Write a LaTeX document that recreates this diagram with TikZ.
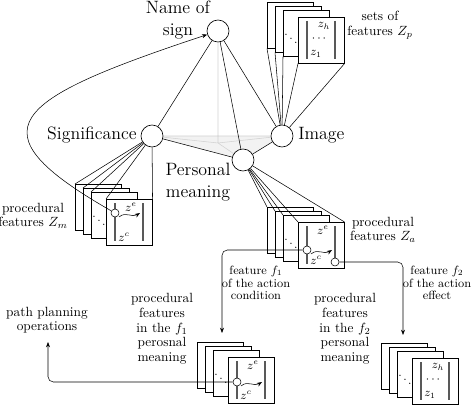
\documentclass[tikz,border=0pt]{standalone}
\usepackage{amsmath}
\usepackage{tikz}
\usetikzlibrary{arrows.meta,backgrounds}
\tikzstyle{sign}=[circle,draw,fill=white,minimum size=16.5pt,inner sep=0pt]
\tikzstyle{big}=[font=\fontsize{13.4}{16.5}\selectfont,inner sep=0pt]
\tikzstyle{note}=[font=\fontsize{10}{11}\selectfont,align=center,inner sep=0pt]
\tikzstyle{fnote}=[note,font=\fontsize{9}{9.4}\selectfont]
\tikzstyle{card}=[draw,fill=white,anchor=north west,minimum width=34.5pt,minimum height=34.5pt,inner sep=0pt]
\tikzstyle{bar}=[line width=2.1pt,black!65]
\tikzstyle{port}=[circle,draw,fill=white,minimum size=6pt,inner sep=0pt]
\tikzstyle{tag}=[font=\small,inner sep=0pt]
\tikzstyle{plane}=[black!18,line width=0.4pt]
% stack of four cards, #2 is the top left corner of the back card
\def\cardstack#1#2{%
  \coordinate (#1) at (#2);
  \foreach \dx/\dy [count=\k] in {0/0,8/4,16/8,31/15}
    \node[card] (#1-\k) at ([shift={(\dx,\dy)}]#1) {};
  \node[tag] at ([shift={(24,33)}]#1) {$\ddots$};
  \draw[bar] ([shift={(40,19)}]#1) -- ([shift={(40,57)}]#1);
  \draw[bar] ([shift={(68,19)}]#1) -- ([shift={(68,57)}]#1);
}
\def\setcard#1{%
  \node[tag] at ([shift={(57,24)}]#1) {$z_h$};
  \node[tag] at ([shift={(53,37)}]#1) {$\cdots$};
  \node[tag] at ([shift={(49,52)}]#1) {$z_1$};
}
\def\proccard#1#2{%
  \node[tag] at ([shift={(56,23)}]#1) {$z^e$};
  \node[tag] at ([shift={(49,53)}]#1) {$z^c$};
  \node[port] (#1-c) at ([shift={(40,#2)}]#1) {};
  \draw[->] ([shift={(44,#2+4)}]#1) .. controls +(7,-6) and +(-8,5) .. ([shift={(65,#2)}]#1);
}
\begin{document}
\begin{tikzpicture}[x=0.75pt,y=-0.75pt,line width=0.5pt,>={Stealth[length=4pt,width=3pt]}]
  \useasboundingbox (0,0) rectangle (474,406);
  % the sign
  \node[sign] (name) at (218,31) {};
  \node[sign] (sig) at (152,136) {};
  \node[sign] (img) at (282,136) {};
  \node[sign] (pm) at (243,160) {};
  \node[big,align=center] (namel) at (178,20) {Name of\\sign};
  \node[big,anchor=base east] (sigl) at (137,140) {Significance};
  \node[big,anchor=base west] (imgl) at (298,140) {Image};
  \node[big,align=center] (pml) at (198,182) {Personal\\meaning};
  \coordinate (foot) at (218,143);
  \begin{pgfonlayer}{background}
    \fill[black!5] (sig.center) -- (img.center) -- (pm.center) -- cycle;
    \draw[plane] (sig) -- (img) (name) -- (foot) (sig) -- (foot) (img) -- (foot) (pm) -- (foot);
  \end{pgfonlayer}
  \draw (name) -- (sig) (name) -- (img) (name) -- (pm) (sig) -- (pm) (img) -- (pm);
  % feature stacks
  \cardstack{zp}{267,2} \setcard{zp}
  \cardstack{zm}{75,184} \proccard{zm}{29}
  \cardstack{za}{267,207} \proccard{za}{43}
  \node[port] (za-c2) at ([shift={(68,55)}]za) {};
  \cardstack{fc}{197,342} \proccard{fc}{40}
  \cardstack{fe}{381,343} \setcard{fe}
  \foreach \k in {1,...,4} \draw (img) -- (zp-\k.south west);
  \draw (img) -- (zp-4.south east);
  \foreach \k in {1,...,4} \draw (sig) -- (zm-\k.north west);
  \draw (sig) -- (zm-4.north east);
  \foreach \k in {1,...,4} \draw (pm) -- (za-\k.north west);
  \draw (pm) -- (za-4.north east);
  \draw[->] (zm-c) .. controls (-30,130) and (10,100) .. (name);
  % action features
  \coordinate (fcin) at (222,333);
  \coordinate (fein) at (403,335);
  \coordinate (ppin) at (48,342);
  \draw[->,rounded corners=4pt] (za-c) -| (fcin);
  \draw[->,rounded corners=4pt] (za-c2) -| (fein);
  \draw[->,rounded corners=4pt] (fc-c) -| (ppin);
  % labels
  \node[note] (zpl) at (380,25) {sets of\\features $Z_p$};
  \node[note] (zml) at (33,216) {procedural\\features $Z_m$};
  \node[note] (zal) at (383,230) {procedural\\features $Z_a$};
  \node[fnote] (fcl) at (256,283) {feature $f_1$\\of the action\\condition};
  \node[fnote] (fel) at (437,283) {feature $f_2$\\of the action\\effect};
  \node[note] (ppl) at (47,320) {path planning\\operations};
  \node[note] (fcm) at (162,329) {procedural\\features\\in the $f_1$\\perosnal\\meaning};
  \node[note] (fem) at (345,329) {procedural\\features\\in the $f_2$\\personal\\meaning};
\end{tikzpicture}
\end{document}
